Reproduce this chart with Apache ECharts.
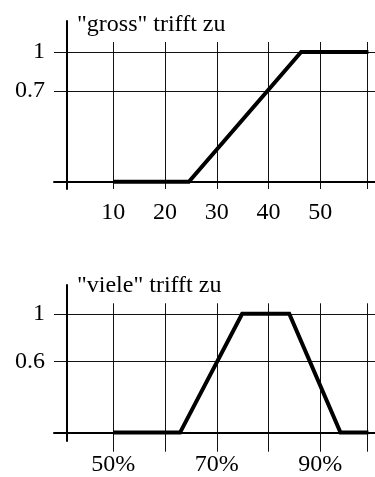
<!DOCTYPE html>
<html><head><meta charset="utf-8">
<script src="https://cdn.jsdelivr.net/npm/echarts@6/dist/echarts.min.js"></script>
<style>html,body{margin:0;padding:0;background:#fff}#c{width:375px;height:477px}</style>
</head><body><div id="c"></div>
<script>
// ---- data: "gross" (top panel) ----
const grossTitle = '"gross" trifft zu';
const grossX = [10, 24.6, 46.3, 59.3];
const grossY = [0, 0, 1, 1];
const grossXLabels = [10, 20, 30, 40, 50];
const grossXGrid = [10, 20, 30, 40, 50, 59];
const grossYLabels = [0.7, 1];

// ---- data: "viele" (bottom panel) ----
const vieleTitle = '"viele" trifft zu';
const vieleX = [50, 62.9, 74.9, 84.0, 93.9, 99.3];
const vieleY = [0, 0, 1, 1, 0, 0];
const vieleXLabels = [50, 70, 90];
const vieleXGrid = [50, 60, 70, 80, 90, 99];
const vieleYLabels = [0.6, 1];

const FONT = 'Liberation Serif';
const FS = 24;

function panel(cfg, gi) {
  const g1 = gi * 2, g2 = gi * 2 + 1;
  const grids = [
    {left: 54, right: 0, top: cfg.top, bottom: cfg.bottom},
    {left: 54, right: 0, top: cfg.gridTop, bottom: cfg.bottom}
  ];
  const xAxes = [
    {type: 'value', gridIndex: g1, min: cfg.xMin, max: cfg.xMax,
     axisLine: {show: true, onZero: true, lineStyle: {color: '#000', width: 2}},
     axisTick: {show: false, customValues: cfg.xLabels},
     axisLabel: {customValues: cfg.xLabels, margin: cfg.xMargin, fontFamily: FONT, fontSize: FS, color: '#000',
                 formatter: cfg.xFmt},
     splitLine: {show: false}},
    {type: 'value', gridIndex: g2, min: cfg.xMin, max: cfg.xMax,
     axisLine: {show: false},
     axisTick: {show: false, customValues: cfg.xGrid},
     axisLabel: {show: false},
     splitLine: {show: true, lineStyle: {color: '#111', width: 1}}}
  ];
  const yAxes = [
    {type: 'value', gridIndex: g1, min: cfg.yMin, max: cfg.yMax, offset: -13,
     axisLine: {show: true, onZero: false, lineStyle: {color: '#000', width: 2}},
     axisTick: {show: false, customValues: cfg.yLabels},
     axisLabel: {customValues: cfg.yLabels, margin: 22, fontFamily: FONT, fontSize: FS, color: '#000'},
     splitLine: {show: true, lineStyle: {color: '#111', width: 1}}},
    {type: 'value', gridIndex: g2, min: 0, max: 1, show: false}
  ];
  const series = [{
    type: 'line', xAxisIndex: g1, yAxisIndex: g1,
    data: cfg.x.map((v, i) => [v, cfg.y[i]]),
    symbol: 'none', lineStyle: {color: '#000', width: 4, cap: 'butt', join: 'miter'},
    animation: false, silent: true
  }];
  const title = {text: cfg.title, left: 77, top: cfg.titleTop, padding: 0,
    textStyle: {fontFamily: FONT, fontSize: FS, fontWeight: 'normal', color: '#000'}};
  return {grids, xAxes, yAxes, series, title};
}

const pTop = panel({
  title: grossTitle, titleTop: 13,
  top: 21, bottom: 288, gridTop: 42,
  xMin: -1.46, xMax: 60.57, yMin: -0.056, yMax: 1.239,
  x: grossX, y: grossY, xLabels: grossXLabels, xGrid: grossXGrid, yLabels: grossYLabels,
  xMargin: 12, xFmt: v => String(v)
}, 0);
const pBot = panel({
  title: vieleTitle, titleTop: 274,
  top: 285, bottom: 25.3, gridTop: 303.3,
  xMin: 38.54, xMax: 100.57, yMin: -0.071, yMax: 1.242,
  x: vieleX, y: vieleY, xLabels: vieleXLabels, xGrid: vieleXGrid, yLabels: vieleYLabels,
  xMargin: 12, xFmt: v => v + '%'
}, 1);

const chart = echarts.init(document.getElementById('c'), null, {renderer: 'canvas'});
chart.setOption({
  animation: false,
  backgroundColor: '#fff',
  title: [pTop.title, pBot.title],
  grid: [...pTop.grids, ...pBot.grids],
  xAxis: [...pTop.xAxes, ...pBot.xAxes],
  yAxis: [...pTop.yAxes, ...pBot.yAxes],
  series: [...pTop.series, ...pBot.series]
});
</script></body></html>
